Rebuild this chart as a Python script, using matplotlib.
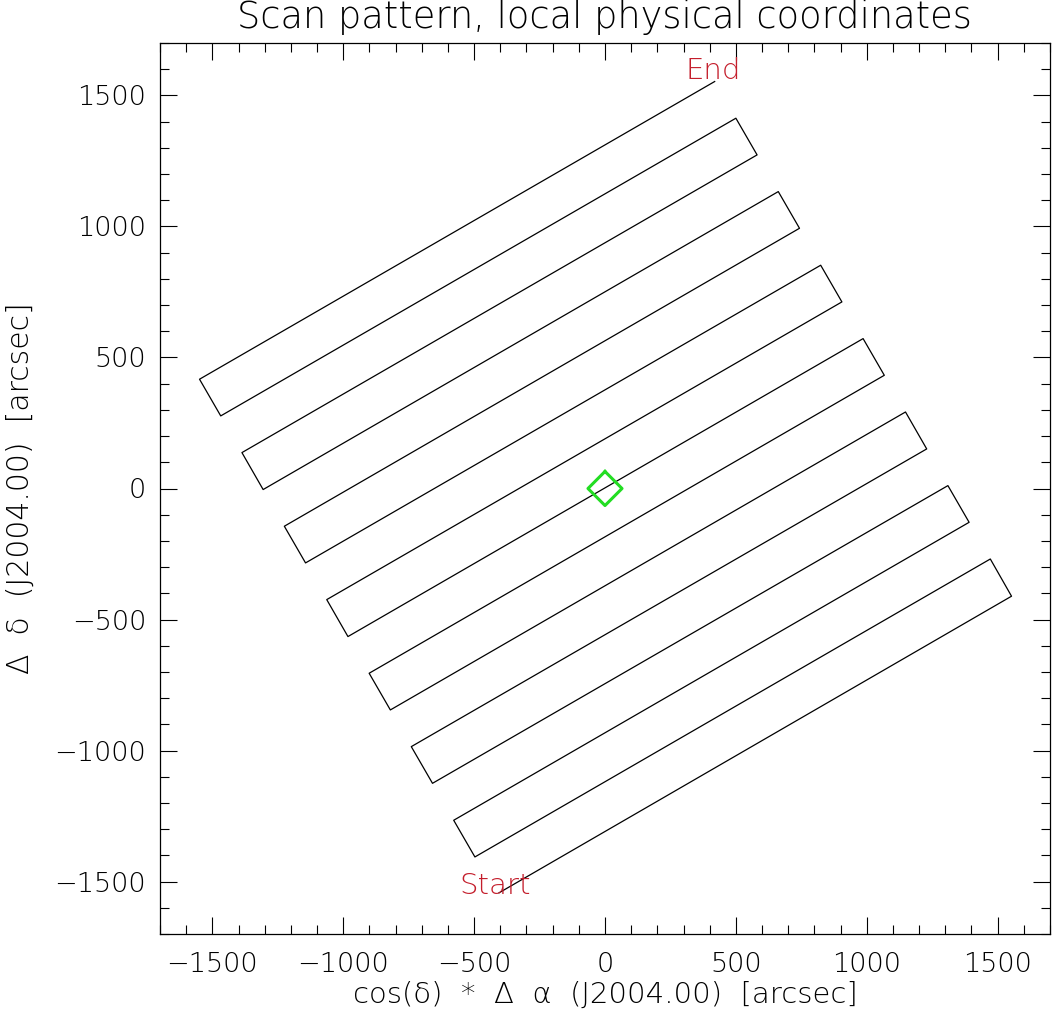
import numpy as np
import matplotlib
matplotlib.use('Agg')
import matplotlib.pyplot as plt
from matplotlib.ticker import MultipleLocator

# scan path vertices [arcsec]
scan_x = [-405, 1553, 1472, -497, -578, 1391, 1310, -659, -740, 1229,
          1148, -820, -901, 1067, 986, -982, -1063, 905, 824, -1144,
          -1225, 743, 662, -1306, -1387, 581, 500, -1468, -1549, 419]
scan_y = [-1543, -411, -269, -1406, -1266, -129, 11, -1125, -985, 151,
          292, -845, -705, 432, 572, -565, -424, 712, 852, -284,
          -144, 993, 1133, -4, 137, 1273, 1413, 277, 417, 1553]

# green target box
box_x = [0, 65, 0, -65, 0]
box_y = [65, 0, -65, 0, 65]

xticks = [-1500, -1000, -500, 0, 500, 1000, 1500]
yticks = [-1500, -1000, -500, 0, 500, 1000, 1500]

plt.rcParams['font.family'] = ['DejaVu Sans']
plt.rcParams['font.weight'] = 'light'
plt.rcParams['axes.labelweight'] = 'light'

fig = plt.figure(figsize=(10.56, 10.24), dpi=100)
ax = fig.add_axes([160/1056, 90/1024, 890/1056, 891/1024])

ax.plot(scan_x, scan_y, color='black', lw=0.9)
ax.plot(box_x, box_y, color='#22dd22', lw=2.2)

ax.text(scan_x[0] - 15, scan_y[0] - 5, 'Start', color='#c41e2c',
        ha='center', va='baseline', fontsize=21)
ax.text(scan_x[-1] - 5, scan_y[-1] + 10, 'End', color='#c41e2c',
        ha='center', va='baseline', fontsize=21)

ax.set_xlim(-1700, 1700)
ax.set_ylim(-1700, 1700)
ax.set_xticks(xticks)
ax.set_yticks(yticks)
ax.set_xticklabels(['\u2212%d' % -t if t < 0 else '%d' % t for t in xticks])
ax.set_yticklabels(['\u2212%d' % -t if t < 0 else '%d' % t for t in yticks])
ax.xaxis.set_minor_locator(MultipleLocator(100))
ax.yaxis.set_minor_locator(MultipleLocator(100))
ax.tick_params(which='both', direction='in', top=True, right=True,
               width=0.8, labelsize=19.5, color='black', labelcolor='black')
ax.tick_params(which='major', length=12.5)
ax.tick_params(which='minor', length=6.5)
ax.tick_params(axis='x', pad=13)
ax.tick_params(axis='y', pad=10)
for s in ax.spines.values():
    s.set_linewidth(0.9)

ax.set_xlabel('cos(\u03b4)  *  \u0394  \u03b1  (J2004.00)  [arcsec]',
              fontsize=21, labelpad=3, color='black', fontweight='light')
ax.set_ylabel('\u0394  \u03b4  (J2004.00)  [arcsec]',
              fontsize=21.5, labelpad=14, color='black', fontweight='light')
fig.text(604/1056, 1 - 17/1024, 'Scan pattern, local physical coordinates',
         ha='center', va='center', fontsize=26.5, color='black')

fig.savefig('out.png', dpi=100)
